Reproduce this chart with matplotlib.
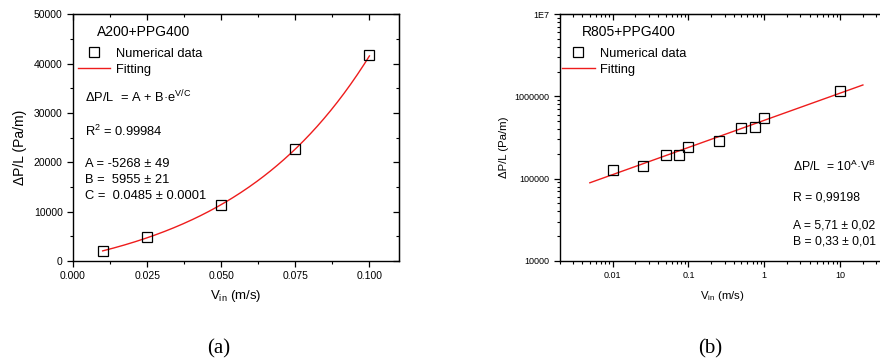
import numpy as np
import matplotlib
matplotlib.use('Agg')
import matplotlib.pyplot as plt
from matplotlib.ticker import MultipleLocator, FixedLocator, FixedFormatter, LogLocator, NullFormatter

plt.rcParams['font.family'] = ['Liberation Sans', 'DejaVu Sans']
plt.rcParams['mathtext.fontset'] = 'custom'
plt.rcParams['mathtext.rm'] = 'Liberation Sans'
plt.rcParams['mathtext.it'] = 'Liberation Sans:italic'

# (a) A200+PPG400
v_a = [0.01, 0.025, 0.05, 0.075, 0.1]
dp_a = [2095, 4865, 11284, 22703, 41689]
fit_a = (-5268, 5955, 0.0485)

# (b) R805+PPG400
v_b = [0.01, 0.025, 0.05, 0.075, 0.1, 0.25, 0.5, 0.75, 1, 10]
dp_b = [128800, 141400, 196000, 194500, 243000, 288000, 419000, 431000, 549000, 1151000]
fit_b = (5.71, 0.33)
fit_b_range = (0.005, 20)

fig = plt.figure(figsize=(8.8, 3.63), dpi=100)
ax1 = fig.add_axes([0.083, 0.281, 0.3705, 0.680])
ax2 = fig.add_axes([0.636, 0.281, 0.3705, 0.680])


def style_axes(ax):
    for s in ax.spines.values():
        s.set_linewidth(1.0)
    ax.tick_params(which='both', direction='out', top=False, right=False, labelsize=7.5)
    ax.tick_params(which='major', length=4, width=0.9)
    ax.tick_params(which='minor', length=2, width=0.8)


def mirror_ticks(ax):
    # top and right ticks point inwards, like in Origin
    top = ax.secondary_xaxis('top')
    top.tick_params(which='both', direction='in', labeltop=False)
    top.tick_params(which='major', length=4, width=0.9)
    top.tick_params(which='minor', length=2, width=0.8)
    right = ax.secondary_yaxis('right')
    right.tick_params(which='both', direction='in', labelright=False)
    right.tick_params(which='major', length=4, width=0.9)
    right.tick_params(which='minor', length=2, width=0.8)
    return top, right


# ---- left plot
style_axes(ax1)
ax1.set_xlim(0, 0.110)
ax1.set_ylim(0, 50000)
ax1.xaxis.set_major_locator(MultipleLocator(0.025))
ax1.xaxis.set_minor_locator(MultipleLocator(0.0125))
ax1.yaxis.set_major_locator(MultipleLocator(10000))
ax1.yaxis.set_minor_locator(MultipleLocator(5000))
ax1.xaxis.set_major_formatter(plt.FormatStrFormatter('%.3f'))
top, right = mirror_ticks(ax1)
top.xaxis.set_major_locator(MultipleLocator(0.025))
top.xaxis.set_minor_locator(MultipleLocator(0.0125))
right.yaxis.set_major_locator(MultipleLocator(10000))
right.yaxis.set_minor_locator(MultipleLocator(5000))

vv = np.linspace(v_a[0], v_a[-1], 200)
ax1.plot(vv, fit_a[0] + fit_a[1] * np.exp(vv / fit_a[2]), color='#ee1c1c', lw=1.0, label='Fitting')
ax1.plot(v_a, dp_a, 's', ms=7, mfc='none', mec='black', mew=0.9, label='Numerical data')
ax1.set_xlabel(r'V$_{\rm in}$ (m/s)', fontsize=9.5, labelpad=5)
ax1.set_ylabel(u'\u0394P/L (Pa/m)', fontsize=10)
ax1.yaxis.set_label_coords(-0.142, 0.46)

ax1.text(0.074, 0.927, 'A200+PPG400', transform=ax1.transAxes, fontsize=10, va='center')
h, l = ax1.get_legend_handles_labels()
ax1.legend(h[::-1], l[::-1], loc='upper left', bbox_to_anchor=(0.0, 0.885), frameon=False,
           fontsize=9.3, handlelength=2.5, handletextpad=0.4, labelspacing=0.3, borderaxespad=0)
fs = 9.3
ax1.text(0.037, 0.664, u'\u0394P/L  = A + B\u00b7e$^{\\rm V/C}$', transform=ax1.transAxes, fontsize=fs, va='center')
ax1.text(0.037, 0.527, u'R$^2$ = 0.99984', transform=ax1.transAxes, fontsize=fs, va='center')
ax1.text(0.037, 0.393, u'A = -5268 \u00b1 49', transform=ax1.transAxes, fontsize=fs, va='center')
ax1.text(0.037, 0.328, u'B =  5955 \u00b1 21', transform=ax1.transAxes, fontsize=fs, va='center')
ax1.text(0.037, 0.263, u'C =  0.0485 \u00b1 0.0001', transform=ax1.transAxes, fontsize=fs, va='center')

# ---- right plot
style_axes(ax2)
ax2.set_xscale('log')
ax2.set_yscale('log')
ax2.set_xlim(0.002, 40)
ax2.set_ylim(1e4, 1e7)
ax2.tick_params(labelsize=6.5)
ax2.xaxis.set_major_locator(FixedLocator([0.01, 0.1, 1, 10]))
ax2.xaxis.set_major_formatter(FixedFormatter(['0.01', '0.1', '1', '10']))
ax2.yaxis.set_major_locator(FixedLocator([1e4, 1e5, 1e6, 1e7]))
ax2.yaxis.set_major_formatter(FixedFormatter(['10000', '100000', '1000000', '1E7']))
ax2.xaxis.set_minor_locator(LogLocator(subs=np.arange(2, 10)))
ax2.yaxis.set_minor_locator(LogLocator(subs=np.arange(2, 10)))
ax2.xaxis.set_minor_formatter(NullFormatter())
ax2.yaxis.set_minor_formatter(NullFormatter())
top2, right2 = mirror_ticks(ax2)
top2.xaxis.set_major_locator(FixedLocator([0.01, 0.1, 1, 10]))
top2.xaxis.set_minor_locator(LogLocator(subs=np.arange(2, 10)))
top2.xaxis.set_minor_formatter(NullFormatter())

vl = np.logspace(np.log10(fit_b_range[0]), np.log10(fit_b_range[1]), 50)
ax2.plot(vl, 10 ** fit_b[0] * vl ** fit_b[1], color='#ee1c1c', lw=1.0, label='Fitting')
ax2.plot(v_b, dp_b, 's', ms=7, mfc='none', mec='black', mew=0.9, label='Numerical data')
ax2.set_xlabel(r'V$_{\rm in}$ (m/s)', fontsize=8.2, labelpad=6)
ax2.set_ylabel(u'\u0394P/L (Pa/m)', fontsize=8.2)
ax2.yaxis.set_label_coords(-0.156, 0.46)

ax2.text(0.067, 0.927, 'R805+PPG400', transform=ax2.transAxes, fontsize=10, va='center')
h, l = ax2.get_legend_handles_labels()
ax2.legend(h[::-1], l[::-1], loc='upper left', bbox_to_anchor=(-0.008, 0.885), frameon=False,
           fontsize=9.3, handlelength=2.5, handletextpad=0.4, labelspacing=0.3, borderaxespad=0)
fs2 = 8.7
ax2.text(0.715, 0.385, u'\u0394P/L  = 10$^{\\rm A}$\u00b7V$^{\\rm B}$', transform=ax2.transAxes, fontsize=fs2, va='center')
ax2.text(0.715, 0.259, 'R = 0,99198', transform=ax2.transAxes, fontsize=fs2, va='center')
ax2.text(0.715, 0.142, u'A = 5,71 \u00b1 0,02', transform=ax2.transAxes, fontsize=fs2, va='center')
ax2.text(0.715, 0.081, u'B = 0,33 \u00b1 0,01', transform=ax2.transAxes, fontsize=fs2, va='center')

fig.text(0.249, 0.040, '(a)', fontsize=15, family='Liberation Serif', ha='center', va='center')
fig.text(0.807, 0.040, '(b)', fontsize=15, family='Liberation Serif', ha='center', va='center')

fig.savefig('out.png', dpi=100)
